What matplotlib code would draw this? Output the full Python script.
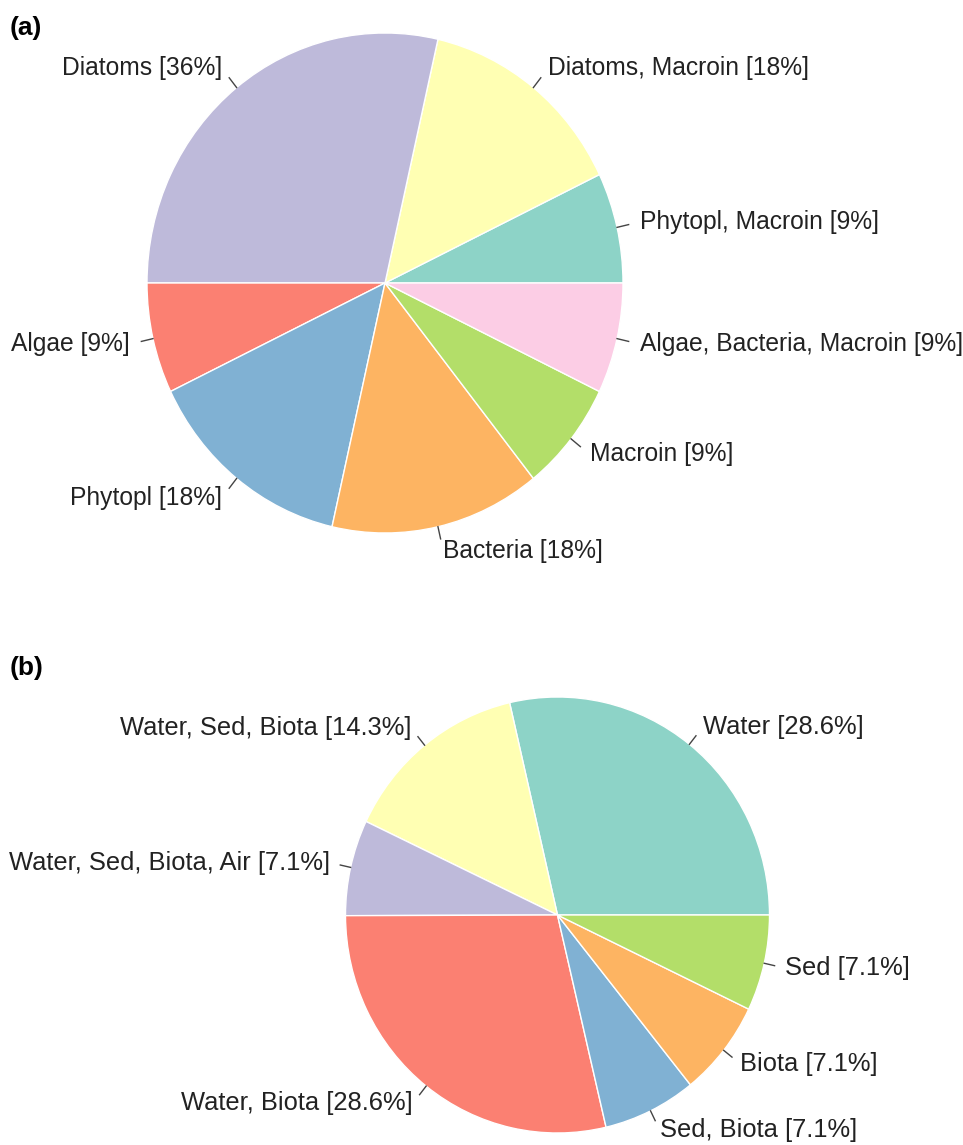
import numpy as np
import matplotlib
matplotlib.use("Agg")
import matplotlib.pyplot as plt

plt.rcParams["font.family"] = ["Liberation Sans", "DejaVu Sans"]

# panel (a): food sources
a_labels = ["Phytopl, Macroin [9%]", "Diatoms, Macroin [18%]", "Diatoms [36%]",
            "Algae [9%]", "Phytopl [18%]", "Bacteria [18%]", "Macroin [9%]",
            "Algae, Bacteria, Macroin [9%]"]
a_values = [9, 18, 36, 9, 18, 18, 9, 9]
a_colors = ["#8DD3C7", "#FFFFB3", "#BEBADA", "#FB8072", "#80B1D3", "#FDB462",
            "#B3DE69", "#FCCDE5"]

# panel (b): compartments
b_labels = ["Water [28.6%]", "Water, Sed, Biota [14.3%]",
            "Water, Sed, Biota, Air [7.1%]", "Water, Biota [28.6%]",
            "Sed, Biota [7.1%]", "Biota [7.1%]", "Sed [7.1%]"]
b_values = [28.6, 14.3, 7.1, 28.6, 7.1, 7.1, 7.1]
b_colors = ["#8DD3C7", "#FFFFB3", "#BEBADA", "#FB8072", "#80B1D3", "#FDB462",
            "#B3DE69"]

W, H = 963, 1145
fig = plt.figure(figsize=(W / 100, H / 100), dpi=100)


def base_pie(top, bottom, cx, cy, rx, ry, values, labels, colors, tag, tag_y,
             fs):
    # axes spans pixel rows top..bottom; data units = pie radius
    ax = fig.add_axes([0, 1 - bottom / H, 1, (bottom - top) / H])
    wedges, texts = ax.pie(values, labels=labels, colors=colors,
                           startangle=0, counterclock=True, radius=1,
                           labeldistance=1.1,
                           wedgeprops=dict(edgecolor="white", linewidth=1),
                           textprops=dict(fontsize=fs, color="#222222"))
    ax.set_aspect("auto")
    ax.set_xlim((0 - cx) / rx, (W - cx) / rx)
    ax.set_ylim((cy - bottom) / ry, (cy - top) / ry)
    ax.axis("off")
    for t in texts:
        t.set_clip_on(False)

    # short tick lines from the rim, like base R pie()
    for w in wedges:
        mid = np.deg2rad((w.theta1 + w.theta2) / 2)
        x, y = np.cos(mid), np.sin(mid)
        ax.plot([x, 1.05 * x], [y, 1.05 * y], color="#444444", lw=1,
                clip_on=False)

    fig.text(10 / W, 1 - tag_y / H, tag, fontsize=19, fontweight="bold",
             ha="left", va="center")


base_pie(0, 600, 385, 283, 238, 250, a_values, a_labels, a_colors, "(a)", 28,
         17.7)
base_pie(600, 1145, 557.5, 915, 212, 218, b_values, b_labels, b_colors,
         "(b)", 668, 18.4)

fig.savefig("out.png", dpi=100, facecolor="white")
